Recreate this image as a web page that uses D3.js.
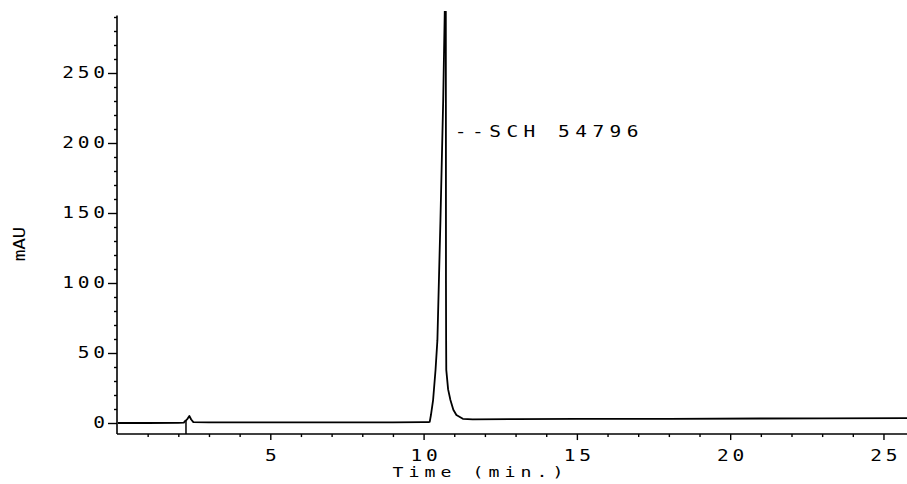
<!DOCTYPE html>
<html><head><meta charset="utf-8">
<script src="https://cdn.jsdelivr.net/npm/d3@7/dist/d3.min.js"></script>
<style>body{margin:0;background:#fff}svg{display:block}</style>
</head><body>
<svg id="c" width="907" height="484"></svg>
<script>
// ---- data ----
const timeMin = [0.03, 1.0, 2.0, 2.18, 2.22, 2.25, 2.30, 2.36, 2.42, 2.49, 3.0, 5.0, 7.0, 9.0, 10.0, 10.15,
  10.20, 10.24, 10.31, 10.39, 10.45, 10.50, 10.55, 10.64, 10.69, 10.705, 10.725, 10.728, 10.73, 10.735, 10.74,
  10.80, 10.875, 10.97, 11.07, 11.28, 11.6, 13.0, 15.0, 18.0, 21.0, 23.0, 25.8];
const absMAU = [0.0, 0.0, 0.1, 0.3, 1.4, 1.8, 3.0, 5.0, 2.5, 0.6, 0.4, 0.4, 0.5, 0.5, 0.6, 0.6,
  0.8, 5.7, 16.4, 38, 59, 102, 145, 231, 294, 295, 294, 200, 100, 59, 38,
  24, 16.4, 9.5, 5.7, 3.0, 2.6, 2.8, 2.9, 3.0, 3.2, 3.3, 3.5];
const yTickValues = [0, 50, 100, 150, 200, 250];
const yTickLabels = ["0", "50", "100", "150", "200", "250"];
const yMinorStep = 10;
const xTickValues = [5, 10, 15, 20, 25];
const xTickLabels = ["5", "10", "15", "20", "25"];
const xMinorStep = 1;
const peakLabel = "--SCH 54796";
const peakLabelAt = [11.05, 205];
const injectTime = 2.25;
const xTitle = "Time (min.)";
const yTitle = "mAU";

// ---- layout ----
const svg = d3.select("#c");
const x = d3.scaleLinear().domain([0, 25.8]).range([117, 908]);
const y = d3.scaleLinear().domain([0, 250]).range([423, 73]);
const yAxisBottom = -7.9, yAxisTop = 291;
const FONT = "'DejaVu Sans Mono', 'Liberation Mono', monospace";
const SX = 1.3;         // horizontal stretch of plotter glyphs
const ADV = 0.602;      // mono advance (em)

// style a text as wide plotter lettering: stretched by SX, fixed pitch (screen px)
function plotter(sel, size, pitch) {
  sel.each(function () {
    const el = d3.select(this);
    const t = el.text();
    const xa = +el.attr("x") || 0;
    el.attr("font-family", FONT).attr("font-size", size).attr("fill", "#000")
      .attr("x", xa / SX)
      .attr("transform", (el.attr("transform") || "") + ` scale(${SX},1)`);
    if (t.length > 1) {
      const span = (t.length - 1) * pitch + ADV * size * SX;
      el.attr("textLength", span / SX).attr("lengthAdjust", "spacing");
    }
  });
}

// axes lines
svg.append("line").attr("x1", x(0)).attr("x2", x(0)).attr("y1", y(yAxisBottom)).attr("y2", y(yAxisTop))
  .attr("stroke", "#000").attr("stroke-width", 1.6);
svg.append("line").attr("x1", x(0)).attr("x2", 907).attr("y1", y(yAxisBottom)).attr("y2", y(yAxisBottom))
  .attr("stroke", "#000").attr("stroke-width", 1.6);

// y major ticks
const gy = svg.append("g").attr("transform", `translate(${x(0)},0)`)
  .call(d3.axisLeft(y).tickValues(yTickValues).tickSize(9).tickPadding(3)
    .tickFormat((d, i) => yTickLabels[i]));
gy.select(".domain").remove();
gy.selectAll("line").attr("stroke", "#000").attr("stroke-width", 1.4);
plotter(gy.selectAll("text"), 15, 15.5);

// y minor ticks
const yMinor = d3.range(0, yAxisTop, yMinorStep).filter(v => !yTickValues.includes(v));
const gym = svg.append("g").attr("transform", `translate(${x(0)},0)`)
  .call(d3.axisLeft(y).tickValues(yMinor).tickSize(3).tickFormat(""));
gym.select(".domain").remove();
gym.selectAll("line").attr("stroke", "#000").attr("stroke-width", 1.4);

// x major ticks
const gx = svg.append("g").attr("transform", `translate(0,${y(yAxisBottom)})`)
  .call(d3.axisBottom(x).tickValues(xTickValues).tickSize(6).tickPadding(10)
    .tickFormat((d, i) => xTickLabels[i]));
gx.select(".domain").remove();
gx.selectAll("line").attr("stroke", "#000").attr("stroke-width", 1.4);
plotter(gx.selectAll("text"), 15, 15.5);

// x minor ticks
const xMinor = d3.range(xMinorStep, 25.8, xMinorStep).filter(v => !xTickValues.includes(v));
const gxm = svg.append("g").attr("transform", `translate(0,${y(yAxisBottom)})`)
  .call(d3.axisBottom(x).tickValues(xMinor).tickSize(3).tickFormat(""));
gxm.select(".domain").remove();
gxm.selectAll("line").attr("stroke", "#000").attr("stroke-width", 1.4);

// titles
svg.append("g").attr("transform", "translate(478,477)")
  .append("text").attr("text-anchor", "middle").text(xTitle).call(plotter, 14, 16);
svg.append("g").attr("transform", "translate(25,244) rotate(-90)")
  .append("text").attr("text-anchor", "middle").text(yTitle).call(plotter, 15, 11.5);

// clip for signal
svg.append("clipPath").attr("id", "clip").append("rect")
  .attr("x", x(0)).attr("y", 11).attr("width", 800).attr("height", 430);

// injection marker
const injIdx = timeMin.indexOf(injectTime);
svg.append("line").attr("x1", x(injectTime)).attr("x2", x(injectTime))
  .attr("y1", y(absMAU[injIdx])).attr("y2", y(yAxisBottom))
  .attr("stroke", "#000").attr("stroke-width", 1.5);

// signal
const pts = timeMin.map((t, i) => [t, absMAU[i]]);
svg.append("path").attr("clip-path", "url(#clip)")
  .attr("d", d3.line().x(d => x(d[0])).y(d => y(d[1]))(pts))
  .attr("fill", "none").attr("stroke", "#000").attr("stroke-width", 1.8).attr("stroke-linejoin", "round");

// peak label
svg.append("g").attr("transform", `translate(${x(peakLabelAt[0]) - 1},${y(peakLabelAt[1]) + 1})`)
  .append("text").text(peakLabel).call(plotter, 15, 17.2);
</script>
</body></html>
